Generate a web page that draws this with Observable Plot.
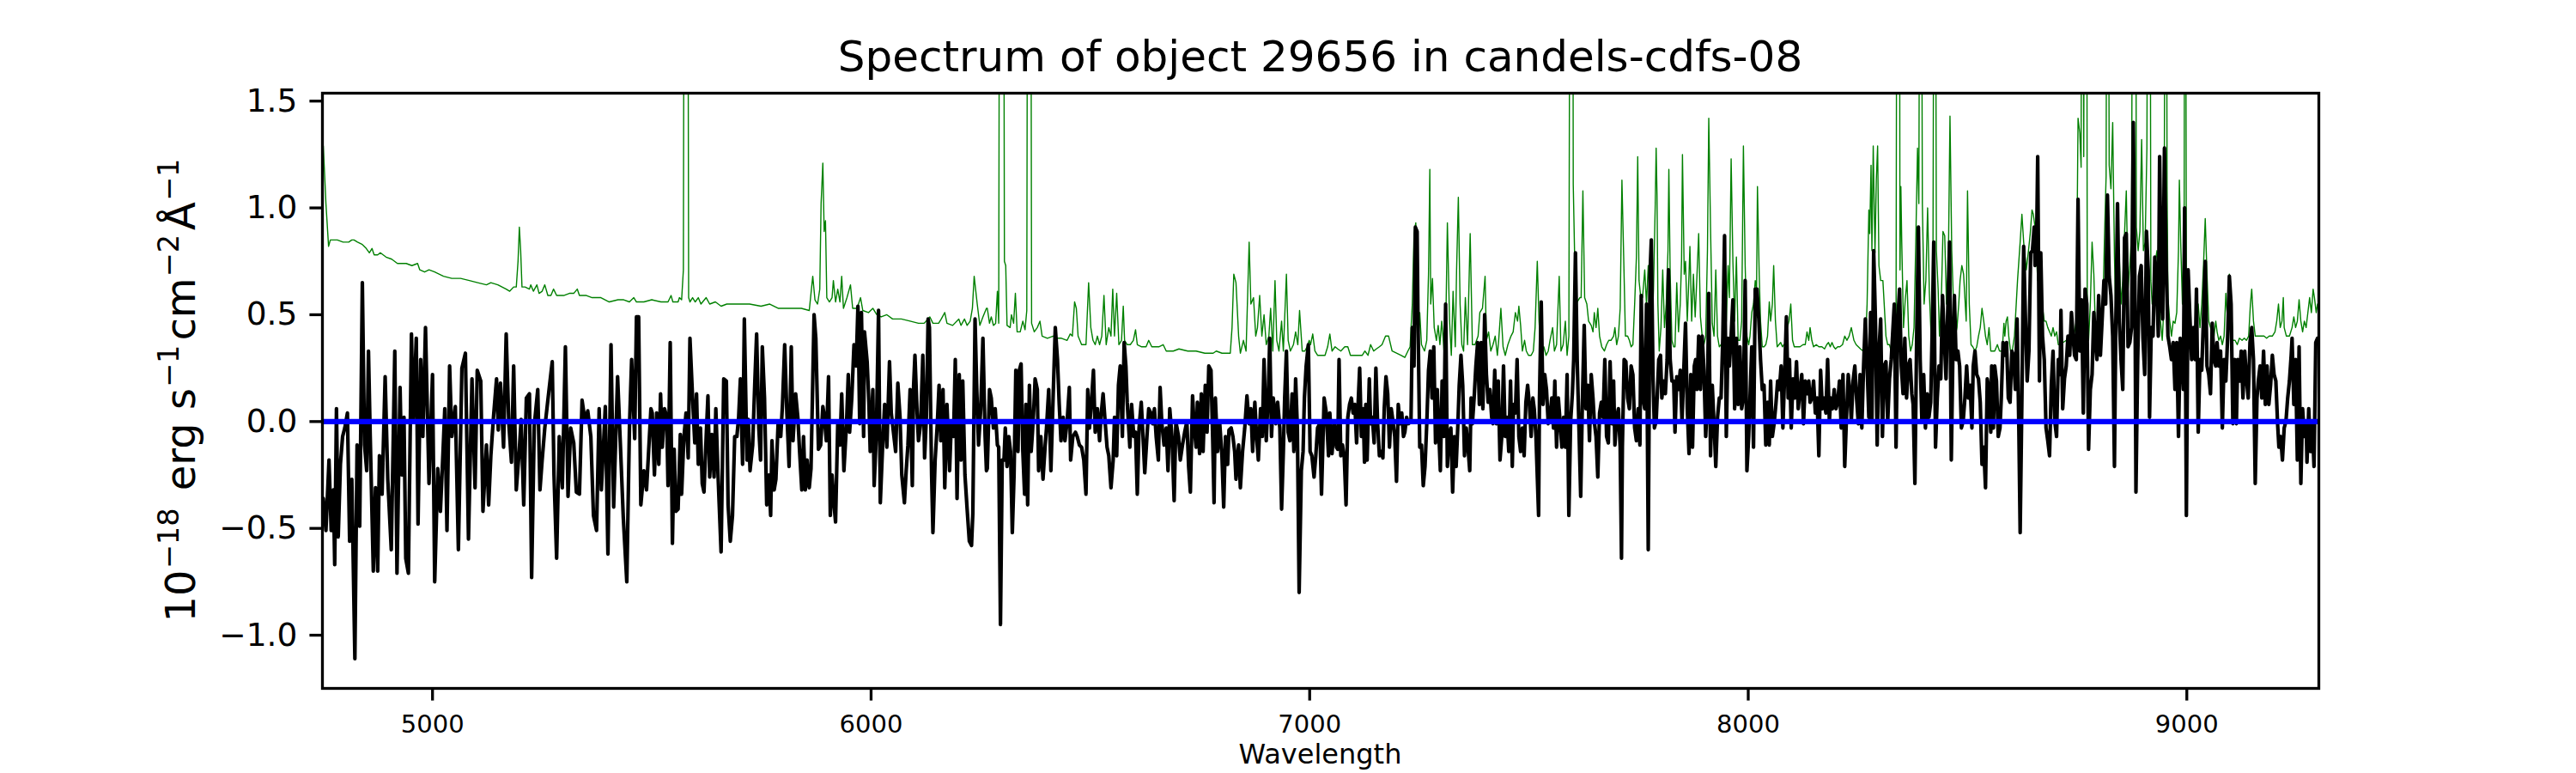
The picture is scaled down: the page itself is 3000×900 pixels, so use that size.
<!DOCTYPE html>
<html>
<head>
<meta charset="utf-8">
<script src="https://cdn.jsdelivr.net/npm/d3@7"></script>
<script src="https://cdn.jsdelivr.net/npm/@observablehq/plot@0.6"></script>
<style>
  html, body { margin: 0; padding: 0; background: #ffffff; }
</style>
</head>
<body>
<div id="chart"></div>
<script>
// ---------- text ----------
const titleText = "Spectrum of object 29656 in candels-cdfs-08";
const xLabelText = "Wavelength";
const yLabelParts = [
  { t: "10" }, { t: "\u221218", sup: true }, { t: " erg s" }, { t: "\u22121", sup: true },
  { t: "cm" }, { t: "\u22122", sup: true }, { t: "\u00C5" }, { t: "\u22121", sup: true }
];

// ---------- ticks & domains ----------
const xTicks = [5000, 6000, 7000, 8000, 9000];
const yTicks = [-1.0, -0.5, 0.0, 0.5, 1.0, 1.5];
const xDomain = [4749, 9301];
const yDomain = [-1.249, 1.537];
const zeroLevel = [0];

// ---------- object flux (black), [wavelength, flux] ----------
const fluxPairs = [
[4751,-0.36],[4757,-0.51],[4764,-0.18],[4769,-0.51],[4774,-0.32],[4777,-0.67],[4781,0.06],[4785,-0.54],[4790,-0.20],[4795,-0.07],[4800,-0.03],[4806,0.04],[4811,-0.56],[4816,-0.27],[4823,-1.11],[4828,-0.11],[4834,-0.49],[4840,0.65],[4845,-0.11],[4850,-0.23],[4854,0.33],[4858,-0.07],[4865,-0.70],[4870,-0.31],[4875,-0.70],[4879,-0.16],[4885,-0.34],[4892,0.21],[4898,-0.27],[4906,-0.60],[4914,0.33],[4919,-0.71],[4926,0.16],[4930,-0.25],[4935,0.02],[4939,-0.64],[4945,-0.71],[4952,0.41],[4956,0.00],[4963,0.39],[4967,-0.48],[4973,0.29],[4978,-0.07],[4984,0.44],[4992,-0.29],[5000,0.22],[5005,-0.75],[5012,-0.22],[5018,-0.42],[5024,-0.14],[5028,0.06],[5033,-0.51],[5039,0.26],[5044,-0.07],[5052,0.07],[5059,-0.60],[5067,0.25],[5075,0.32],[5082,-0.55],[5090,0.20],[5097,-0.31],[5102,0.24],[5110,0.19],[5115,-0.42],[5123,-0.11],[5128,-0.39],[5133,-0.16],[5139,0.02],[5146,0.20],[5150,-0.04],[5155,0.18],[5162,-0.12],[5168,0.41],[5174,-0.01],[5180,-0.19],[5185,0.26],[5191,-0.32],[5198,-0.13],[5202,0.01],[5208,-0.39],[5214,0.11],[5221,0.13],[5226,-0.73],[5232,-0.02],[5240,0.15],[5245,-0.32],[5250,-0.18],[5256,-0.03],[5263,0.10],[5268,0.19],[5273,0.28],[5277,-0.25],[5283,-0.64],[5289,-0.07],[5296,-0.31],[5303,0.35],[5309,-0.35],[5315,-0.03],[5322,-0.10],[5328,-0.33],[5335,-0.34],[5341,0.10],[5348,0.00],[5354,0.05],[5361,-0.07],[5367,-0.44],[5374,-0.51],[5380,0.06],[5385,-0.32],[5394,0.07],[5400,-0.62],[5407,0.36],[5413,-0.40],[5422,0.21],[5429,-0.14],[5435,-0.45],[5443,-0.75],[5449,-0.03],[5454,0.29],[5461,-0.08],[5465,0.49],[5470,0.49],[5475,-0.39],[5482,-0.23],[5488,-0.32],[5498,0.06],
[5501,0.04],[5506,-0.25],[5511,0.04],[5516,-0.20],[5520,0.13],[5524,-0.12],[5529,0.06],[5534,0.02],[5537,-0.30],[5542,0.37],[5547,-0.57],[5551,-0.13],[5555,-0.42],[5560,-0.41],[5565,-0.06],[5568,-0.34],[5573,-0.08],[5578,0.04],[5583,-0.17],[5587,0.39],[5593,0.11],[5598,-0.10],[5602,0.13],[5606,-0.20],[5611,-0.03],[5615,-0.29],[5619,-0.33],[5624,-0.07],[5628,0.12],[5632,-0.26],[5637,-0.06],[5642,-0.26],[5646,0.06],[5651,-0.25],[5658,-0.61],[5664,0.20],[5670,0.19],[5674,-0.39],[5679,-0.56],[5684,-0.44],[5689,-0.07],[5694,-0.07],[5698,0.02],[5702,0.20],[5707,-0.20],[5711,0.48],[5717,-0.18],[5720,0.01],[5724,-0.23],[5730,-0.11],[5735,0.19],[5739,0.41],[5744,-0.03],[5748,-0.18],[5752,0.35],[5757,0.11],[5762,-0.39],[5767,-0.25],[5771,-0.44],[5774,-0.09],[5779,-0.32],[5783,-0.27],[5788,-0.01],[5794,-0.07],[5798,0.08],[5803,0.36],[5808,0.04],[5813,-0.21],[5818,0.35],[5822,-0.09],[5828,0.13],[5833,0.02],[5837,-0.14],[5842,-0.32],[5846,-0.07],[5850,-0.32],[5854,-0.18],[5859,-0.31],[5863,-0.22],[5870,0.50],[5874,0.39],[5880,-0.13],[5885,-0.11],[5890,0.07],[5893,0.03],[5898,-0.09],[5903,0.21],[5907,-0.44],[5911,-0.25],[5916,-0.40],[5919,-0.47],[5924,-0.01],[5929,-0.11],[5933,0.13],[5938,-0.23],[5944,-0.01],[5948,0.22],[5951,-0.05],[5956,0.11],[5961,0.36],[5966,0.26],[5970,0.54],[5974,-0.01],[5978,0.51],[5983,-0.07],[5985,0.42],[5991,0.28],[5995,0.09],[5998,-0.14],[6004,0.15],[6007,-0.30],[6012,-0.06],[6017,0.52],[6021,-0.38],[6027,-0.08],[6031,0.08],[6036,-0.12],[6042,0.28],[6046,0.04],[6051,-0.05],[6056,-0.14],[6061,0.18],[6066,0.02],[6070,-0.25],[6076,-0.38],[6080,-0.23],[6084,-0.11],[6089,0.15],[6094,-0.30],[6097,0.17],[6100,0.31],[6105,0.04],[6108,-0.09],[6113,-0.01],[6118,0.31],[6122,-0.17],[6126,0.02],[6130,0.48],[6133,0.44],[6138,-0.25],[6141,-0.52],[6146,-0.18],[6151,-0.01],[6155,0.17],[6159,-0.09],[6164,0.15],[6168,-0.31],[6173,0.08],[6179,-0.23],[6183,0.00],[6188,-0.07],[6192,0.29],[6196,-0.36],[6201,0.22],[6205,-0.18],[6209,0.19],[6214,-0.25],[6219,-0.41],[6224,-0.56],[6229,-0.58],[6232,-0.43],[6237,0.48],[6241,0.15],[6245,-0.11],[6250,0.06],[6255,0.39],[6260,-0.07],[6263,-0.23],
[6265,-0.22],[6270,0.15],[6274,0.11],[6279,-0.03],[6283,0.06],[6288,-0.11],[6291,-0.12],[6295,-0.95],[6299,-0.18],[6303,-0.18],[6306,-0.03],[6310,-0.21],[6314,-0.07],[6318,-0.14],[6322,-0.52],[6326,-0.25],[6330,0.24],[6335,-0.14],[6338,0.24],[6342,0.27],[6346,-0.14],[6350,-0.34],[6353,0.08],[6357,-0.39],[6361,0.17],[6365,-0.14],[6368,-0.05],[6371,0.06],[6374,0.20],[6379,0.15],[6382,-0.23],[6387,-0.07],[6392,-0.27],[6397,-0.11],[6400,-0.03],[6405,0.15],[6410,-0.23],[6415,0.11],[6420,0.44],[6425,0.29],[6429,0.08],[6433,-0.09],[6438,0.02],[6442,-0.09],[6447,0.00],[6452,0.16],[6455,-0.18],[6460,-0.07],[6466,-0.05],[6470,-0.07],[6475,-0.11],[6480,-0.12],[6485,-0.18],[6490,-0.34],[6494,0.15],[6498,-0.03],[6503,0.11],[6507,0.24],[6511,-0.05],[6516,0.06],[6521,-0.09],[6524,0.02],[6529,0.13],[6534,-0.01],[6538,-0.12],[6542,-0.16],[6547,-0.31],[6552,-0.18],[6555,0.02],[6560,-0.16],[6564,0.17],[6568,0.26],[6573,-0.07],[6577,0.37],[6581,0.26],[6584,0.09],[6590,-0.12],[6594,0.08],[6599,-0.07],[6603,-0.05],[6607,-0.34],[6611,-0.03],[6616,0.09],[6620,-0.07],[6624,-0.24],[6629,-0.07],[6633,0.06],[6638,0.04],[6642,-0.01],[6646,0.06],[6650,-0.07],[6655,-0.18],[6659,0.16],[6663,-0.01],[6668,-0.11],[6673,-0.03],[6677,-0.23],[6681,0.06],[6686,-0.07],[6691,-0.37],[6695,0.00],[6701,-0.07],[6705,-0.18],[6710,-0.11],[6715,-0.05],[6720,0.00],[6724,-0.21],[6728,-0.33],[6733,0.12],[6737,-0.03],[6741,-0.12],[6744,0.09],[6749,-0.15],[6753,0.13],[6757,-0.14],[6762,0.17],[6766,-0.05],[6770,0.26],[6775,0.24],[6779,-0.09],[6782,-0.38],[6785,0.11],[6790,-0.14],[6795,-0.01],[6800,-0.16],[6804,-0.40],[6808,-0.07],[6813,-0.20],[6816,-0.04],[6821,-0.03],[6825,-0.07],[6829,-0.14],[6832,-0.27],[6838,-0.11],[6842,-0.31],[6847,-0.14],[6852,-0.03],[6857,0.12],[6862,-0.01],[6866,0.06],[6870,-0.14],[6875,0.09],[6879,-0.07],[6883,-0.18],[6888,0.06],[6892,-0.07],[6896,0.29],[6901,-0.09],[6906,0.15],[6909,0.39],[6913,-0.07],[6917,0.11],[6923,-0.01],[6927,0.09],[6932,-0.03],[6936,-0.41],[6940,-0.14],[6943,0.11],[6947,0.33],[6951,-0.05],[6955,-0.09],[6960,0.13],[6964,-0.14],[6968,0.20],[6972,-0.03],[6976,-0.80],[6981,-0.23],[6985,-0.14],[6988,0.11],[6992,0.26],[6997,0.36],[7001,-0.14],[7005,-0.16],[7010,-0.26],[7014,-0.16],[7018,-0.03],[7023,-0.01],[7027,-0.34],
[7033,0.11],[7038,0.04],[7043,-0.16],[7046,0.04],[7051,-0.15],[7056,-0.01],[7061,-0.12],[7064,-0.13],[7067,0.29],[7071,-0.16],[7075,-0.11],[7079,-0.17],[7083,-0.39],[7087,0.02],[7091,0.08],[7095,0.11],[7099,0.04],[7103,0.08],[7107,-0.10],[7110,0.06],[7114,0.25],[7118,-0.07],[7122,0.06],[7125,-0.19],[7128,0.08],[7131,-0.18],[7136,0.20],[7139,-0.01],[7143,0.02],[7147,-0.10],[7151,0.25],[7155,-0.01],[7159,-0.16],[7163,-0.14],[7167,-0.17],[7170,0.06],[7174,0.21],[7178,0.13],[7182,-0.12],[7186,0.06],[7190,0.00],[7194,-0.07],[7198,-0.28],[7202,0.08],[7206,-0.01],[7210,0.04],[7214,-0.07],[7217,-0.05],[7221,0.02],[7225,-0.01],[7231,0.00],[7234,0.44],[7238,0.26],[7241,0.91],[7245,0.89],[7247,0.48],[7251,-0.12],[7255,-0.11],[7259,-0.30],[7263,-0.21],[7267,-0.01],[7271,0.24],[7275,0.33],[7279,0.11],[7283,0.35],[7287,-0.10],[7291,0.15],[7294,-0.03],[7298,-0.23],[7302,0.19],[7306,-0.07],[7310,0.55],[7314,-0.21],[7318,-0.07],[7322,-0.03],[7326,-0.33],[7330,-0.07],[7334,-0.21],[7338,-0.01],[7341,0.17],[7345,0.31],[7349,0.17],[7353,-0.16],[7357,-0.03],[7361,-0.12],[7365,-0.23],[7368,0.11],[7371,-0.01],[7375,0.11],[7379,0.26],[7383,0.37],[7387,0.08],[7391,0.37],[7395,0.06],[7399,0.50],[7403,0.22],[7407,0.09],[7411,0.15],[7415,0.02],[7418,-0.01],[7422,0.24],[7426,-0.01],[7430,0.19],[7434,-0.18],[7438,-0.07],[7442,0.26],[7446,-0.07],[7450,0.02],[7454,-0.14],[7458,0.19],[7462,-0.21],[7465,0.08],[7469,0.04],[7473,0.29],[7477,-0.07],[7481,-0.14],[7485,-0.03],[7489,-0.16],[7493,0.09],[7497,0.17],[7501,0.08],[7505,-0.07],[7509,0.11],[7512,0.06],[7516,-0.07],[7522,-0.44],[7524,0.11],[7528,0.56],[7532,0.08],[7536,0.22],[7540,0.15],[7544,-0.01],[7548,0.02],[7552,0.11],[7556,-0.03],[7559,0.19],[7563,-0.12],[7567,0.11],[7571,0.00],[7575,-0.12],[7579,0.02],[7583,-0.12],[7587,0.22],[7591,-0.44],[7595,0.00],[7599,0.13],[7602,0.29],[7606,0.79],[7610,0.29],[7614,-0.03],[7618,-0.35],[7622,0.11],[7626,0.45],[7630,0.06],[7634,0.17],[7638,-0.09],[7642,0.22],[7646,0.11],[7649,0.00],[7653,-0.07],[7657,-0.26],[7661,0.04],[7665,0.09],[7669,0.02],[7673,0.29],[7677,-0.07],[7681,-0.10],[7685,0.28],[7689,-0.01],[7693,0.19],[7696,-0.11],[7700,0.02],[7704,0.06],[7708,-0.12],[7711,-0.64],[7713,-0.12],[7717,0.29],[7721,0.28],[7725,0.11],[7729,0.06],[7733,0.26],[7737,0.22],[7741,-0.03],[7745,-0.09],[7749,0.06],[7753,-0.11],[7756,0.59],[7760,0.11],[7764,0.06],[7768,0.55],[7772,-0.60],[7776,0.69],[7779,0.85],[7783,0.19],[7786,-0.03],[7790,0.00],
[7796,0.29],[7800,0.31],[7803,0.11],[7807,0.19],[7811,0.13],[7815,0.29],[7818,0.71],[7822,0.29],[7826,0.19],[7830,0.19],[7833,-0.05],[7837,0.21],[7841,0.15],[7845,0.24],[7849,0.00],[7853,0.24],[7857,0.46],[7861,0.06],[7865,-0.15],[7869,0.22],[7873,-0.12],[7877,0.26],[7880,0.29],[7883,0.15],[7887,0.40],[7891,0.15],[7895,0.40],[7899,0.24],[7903,-0.07],[7907,0.11],[7910,0.60],[7914,-0.16],[7918,0.17],[7922,-0.01],[7926,-0.21],[7930,0.02],[7934,0.11],[7938,0.11],[7942,0.39],[7946,0.87],[7950,-0.07],[7954,0.39],[7957,0.26],[7961,0.40],[7965,0.57],[7969,0.06],[7973,0.39],[7977,0.08],[7981,0.35],[7985,0.06],[7989,0.11],[7993,0.66],[7997,-0.23],[8001,-0.07],[8004,0.11],[8008,0.35],[8012,-0.12],[8016,0.62],[8020,0.62],[8024,0.48],[8028,0.29],[8032,0.15],[8036,0.17],[8040,-0.11],[8044,0.09],[8048,-0.11],[8051,0.19],[8055,-0.07],[8059,-0.01],[8063,0.08],[8067,0.19],[8071,0.15],[8075,0.26],[8079,-0.03],[8083,0.22],[8087,0.49],[8091,0.11],[8094,0.29],[8098,-0.03],[8102,0.20],[8106,0.11],[8110,0.28],[8114,0.06],[8118,0.15],[8122,0.22],[8126,-0.01],[8130,0.19],[8134,0.13],[8138,0.19],[8141,0.09],[8145,0.11],[8149,0.19],[8153,0.04],[8157,0.11],[8161,-0.16],[8165,0.24],[8169,0.06],[8173,0.11],[8177,0.04],[8181,0.29],[8185,0.00],[8188,0.11],[8192,0.06],[8196,0.15],[8200,0.06],[8204,0.09],[8208,0.19],[8212,-0.03],[8216,0.22],[8220,-0.21],[8224,0.02],[8228,0.22],[8232,0.13],[8235,0.00],[8239,0.19],[8243,0.26],[8247,0.11],[8251,-0.01],[8255,0.22],[8259,-0.03],[8263,0.26],[8267,0.48],[8271,0.26],[8275,0.02],[8279,0.51],[8282,0.00],[8286,0.80],[8290,0.48],[8294,-0.11],[8298,0.33],[8302,0.48],[8306,-0.07],[8310,0.26],[8314,0.28],[8318,0.00],[8322,0.20],[8326,0.29],[8329,0.40],[8333,0.55],[8337,-0.12],[8341,0.48],[8345,0.62],[8349,0.26],[8353,0.13],[8357,0.39],[8361,0.11],[8365,0.26],[8369,0.29],[8373,0.13],[8376,0.08],[8380,-0.29],[8384,0.39],[8388,0.91],[8392,0.29],[8396,0.00],[8400,0.22],[8404,-0.03],[8408,0.13],[8412,0.02],[8416,0.09],[8420,0.48],[8423,0.84],[8427,-0.12],[8431,0.11],[8435,0.26],[8439,0.20],[8443,0.59],[8447,0.39],[8451,0.20],[8455,0.53],[8459,0.84],[8463,-0.18],[8467,0.37],[8470,0.59],[8474,0.29],[8478,0.33],[8482,0.26],[8486,-0.03],[8490,0.00],[8494,0.11],[8498,0.26],[8502,0.11],[8506,0.17],[8510,-0.03],[8513,0.26],[8517,0.33],[8521,0.22],[8525,0.20],[8529,0.09],[8533,-0.20],[8537,-0.12],[8541,-0.31],[8545,0.20],[8549,0.15],[8553,-0.05],
[8555,0.26],[8559,-0.03],[8562,0.26],[8566,0.19],[8570,-0.07],[8574,-0.03],[8577,0.11],[8581,0.37],[8585,0.31],[8589,0.37],[8593,0.11],[8597,0.09],[8601,0.33],[8605,0.31],[8609,0.15],[8613,0.48],[8617,-0.03],[8620,-0.52],[8624,0.11],[8628,0.82],[8632,0.49],[8636,0.19],[8640,0.33],[8644,0.79],[8648,0.80],[8652,0.91],[8654,0.73],[8657,0.75],[8660,1.24],[8664,0.19],[8667,0.79],[8671,0.40],[8675,0.29],[8679,-0.03],[8683,-0.09],[8687,-0.16],[8691,0.17],[8695,0.33],[8699,0.00],[8703,-0.07],[8707,0.29],[8711,0.22],[8713,0.52],[8717,0.06],[8721,0.20],[8725,0.26],[8729,0.40],[8733,0.31],[8737,0.51],[8741,0.39],[8744,0.31],[8748,0.29],[8752,1.04],[8756,0.33],[8760,0.57],[8764,0.04],[8768,0.62],[8772,0.55],[8776,-0.13],[8780,0.15],[8784,0.22],[8788,0.51],[8791,0.40],[8795,0.29],[8799,0.59],[8803,0.31],[8807,0.48],[8811,0.66],[8815,0.55],[8819,1.06],[8823,0.68],[8827,0.59],[8831,0.40],[8835,-0.21],[8838,0.44],[8842,1.02],[8846,0.48],[8850,0.29],[8854,0.15],[8858,0.86],[8862,0.88],[8866,0.35],[8870,0.37],[8874,0.44],[8878,1.40],[8882,0.55],[8884,-0.33],[8888,0.29],[8892,0.68],[8896,0.73],[8900,0.39],[8904,0.22],[8908,0.89],[8912,0.71],[8915,0.02],[8919,0.44],[8923,0.40],[8927,0.77],[8931,0.66],[8935,0.40],[8938,1.24],[8942,0.57],[8945,0.48],[8949,1.28],[8953,0.73],[8957,0.40],[8961,0.35],[8965,0.29],[8969,0.37],[8973,0.15],[8977,0.37],[8981,-0.07],[8985,0.39],[8989,0.29],[8992,0.15],[8995,1.00],[8999,-0.44],[9003,0.71],[9007,0.49],[9011,0.29],[9015,0.44],[9019,0.29],[9022,0.62],[9026,-0.05],[9030,0.29],[9034,0.24],[9038,0.48],[9042,0.75],[9046,0.26],[9050,0.22],[9054,0.13],[9058,0.46],[9062,0.29],[9066,0.26],[9069,0.37],[9073,0.26],[9077,0.33],[9081,-0.03],[9085,0.29],[9089,0.19],[9093,0.39],[9097,0.68],[9101,0.55],[9105,-0.01],[9109,0.29],[9113,-0.01],[9116,0.29],[9120,0.19],[9124,0.33],[9128,0.11],[9132,0.33],[9136,0.20],[9140,0.11],[9144,0.37],[9148,0.44],[9152,0.29],[9156,-0.29],[9160,0.11],[9163,0.19],[9167,0.26],[9171,0.11],[9175,0.33],[9179,0.08],[9183,0.26],[9187,0.08],[9191,0.17],[9195,0.31],[9199,0.22],[9203,0.19],[9207,-0.01],[9210,-0.12],[9214,-0.07],[9218,-0.18],[9222,-0.03],[9226,0.00],[9230,0.11],[9234,0.19],[9238,0.31],[9240,0.39],[9244,0.08],[9248,0.29],[9252,-0.18],[9256,0.35],[9260,-0.29],[9264,0.06],[9268,-0.07],[9272,0.00],[9274,-0.19],[9278,0.06],[9282,-0.14],[9286,0.00],[9290,-0.21],[9294,0.37],[9298,0.39]
];

// ---------- noise / sky spectrum (green), [wavelength, flux]; 4.0 = beyond the top ----------
const noisePairs = [
[4751,1.29],[4757,1.02],[4763,0.82],[4767,0.85],[4774,0.85],[4783,0.85],[4796,0.84],[4803,0.84],[4809,0.84],[4816,0.85],[4821,0.85],[4829,0.84],[4839,0.83],[4849,0.81],[4856,0.79],[4862,0.81],[4867,0.78],[4875,0.78],[4881,0.79],[4894,0.77],[4907,0.76],[4920,0.74],[4927,0.74],[4940,0.74],[4953,0.73],[4966,0.74],[4971,0.71],[4982,0.70],[4992,0.71],[5005,0.70],[5025,0.68],[5044,0.67],[5064,0.67],[5084,0.66],[5103,0.65],[5123,0.64],[5133,0.65],[5149,0.64],[5168,0.62],[5176,0.61],[5185,0.63],[5191,0.63],[5195,0.75],[5198,0.91],[5201,0.80],[5204,0.63],[5211,0.63],[5221,0.62],[5224,0.64],[5230,0.61],[5238,0.64],[5243,0.60],[5250,0.61],[5256,0.64],[5263,0.59],[5270,0.59],[5276,0.62],[5283,0.59],[5299,0.59],[5312,0.60],[5322,0.60],[5330,0.62],[5335,0.59],[5351,0.59],[5364,0.58],[5384,0.58],[5403,0.56],[5423,0.57],[5436,0.57],[5449,0.56],[5459,0.58],[5465,0.56],[5482,0.56],[5500,0.57],
[5521,0.56],[5537,0.56],[5544,0.59],[5548,0.56],[5560,0.56],[5563,0.58],[5568,0.57],[5572,0.71],[5575,4.0],[5581,4.0],[5584,0.58],[5587,0.56],[5593,0.58],[5599,0.56],[5606,0.58],[5612,0.55],[5624,0.58],[5632,0.55],[5645,0.56],[5658,0.54],[5671,0.55],[5697,0.55],[5723,0.55],[5749,0.54],[5769,0.55],[5788,0.53],[5814,0.53],[5841,0.53],[5859,0.52],[5863,0.60],[5867,0.68],[5872,0.57],[5878,0.55],[5883,0.62],[5886,1.02],[5890,1.21],[5893,0.89],[5896,0.94],[5899,0.58],[5905,0.56],[5911,0.58],[5914,0.66],[5919,0.56],[5924,0.62],[5929,0.56],[5933,0.68],[5937,0.53],[5945,0.58],[5953,0.64],[5958,0.53],[5968,0.53],[5976,0.58],[5981,0.52],[5994,0.51],[6004,0.53],[6013,0.50],[6023,0.49],[6036,0.50],[6049,0.48],[6069,0.48],[6089,0.47],[6108,0.46],[6121,0.46],[6134,0.49],[6141,0.46],[6154,0.46],[6160,0.48],[6168,0.51],[6173,0.46],[6186,0.45],[6200,0.48],[6205,0.45],[6213,0.48],[6219,0.45],[6226,0.47],[6231,0.53],[6235,0.68],[6242,0.55],[6248,0.45],[6255,0.49],[6263,0.53],
[6265,0.53],[6270,0.46],[6274,0.49],[6279,0.45],[6284,0.46],[6288,0.61],[6291,0.46],[6294,4.0],[6301,4.0],[6304,0.75],[6307,0.73],[6310,0.45],[6317,0.44],[6320,0.50],[6325,0.46],[6329,0.60],[6333,0.42],[6340,0.42],[6346,0.47],[6351,0.43],[6355,0.52],[6358,4.0],[6363,4.0],[6366,0.46],[6372,0.42],[6379,0.44],[6385,0.47],[6390,0.40],[6402,0.39],[6415,0.40],[6425,0.39],[6434,0.39],[6447,0.38],[6454,0.41],[6459,0.40],[6464,0.56],[6468,0.53],[6472,0.40],[6480,0.36],[6490,0.36],[6496,0.65],[6501,0.44],[6506,0.38],[6511,0.36],[6516,0.40],[6521,0.36],[6526,0.40],[6531,0.59],[6536,0.36],[6542,0.44],[6547,0.40],[6551,0.62],[6555,0.40],[6560,0.60],[6565,0.36],[6571,0.38],[6575,0.54],[6578,0.38],[6584,0.36],[6591,0.36],[6598,0.38],[6603,0.43],[6607,0.36],[6617,0.35],[6627,0.35],[6633,0.38],[6640,0.35],[6656,0.35],[6666,0.36],[6673,0.33],[6689,0.33],[6702,0.34],[6722,0.33],[6741,0.33],[6761,0.32],[6780,0.32],[6787,0.33],[6800,0.32],[6819,0.32],[6823,0.44],[6827,0.69],[6832,0.65],[6838,0.40],[6842,0.32],[6849,0.38],[6855,0.33],[6862,0.84],[6866,0.55],[6872,0.58],[6877,0.40],[6881,0.44],[6886,0.59],[6891,0.40],[6896,0.50],[6901,0.36],[6907,0.40],[6911,0.53],[6916,0.33],[6921,0.66],[6925,0.38],[6930,0.33],[6936,0.47],[6940,0.33],[6947,0.69],[6951,0.38],[6956,0.33],[6963,0.36],[6968,0.42],[6973,0.36],[6977,0.52],[6983,0.33],[6989,0.33],[6994,0.35],[6999,0.38],[7002,0.36],[7007,0.41],[7012,0.33],[7018,0.31],[7027,0.31],
[7035,0.31],[7041,0.35],[7046,0.41],[7051,0.33],[7058,0.35],[7064,0.34],[7071,0.33],[7080,0.35],[7087,0.35],[7093,0.31],[7107,0.31],[7120,0.31],[7126,0.33],[7133,0.31],[7139,0.36],[7146,0.33],[7152,0.34],[7159,0.35],[7165,0.36],[7173,0.40],[7180,0.40],[7188,0.33],[7198,0.32],[7208,0.31],[7217,0.30],[7224,0.33],[7229,0.35],[7234,0.55],[7238,0.88],[7242,0.93],[7246,0.55],[7249,0.42],[7251,0.51],[7255,0.36],[7262,0.33],[7267,0.38],[7271,0.69],[7274,1.18],[7276,0.55],[7280,0.67],[7284,0.44],[7289,0.38],[7293,0.45],[7297,0.36],[7301,0.47],[7304,0.40],[7307,0.31],[7310,0.40],[7314,0.93],[7319,0.47],[7323,0.31],[7327,0.61],[7332,0.35],[7335,0.71],[7339,1.05],[7343,0.55],[7347,0.36],[7351,0.33],[7355,0.58],[7360,0.36],[7366,0.88],[7371,0.36],[7377,0.36],[7384,0.40],[7388,0.51],[7394,0.53],[7400,0.68],[7403,0.38],[7408,0.42],[7413,0.33],[7418,0.36],[7423,0.40],[7428,0.31],[7431,0.38],[7436,0.53],[7441,0.35],[7446,0.31],[7452,0.36],[7459,0.40],[7464,0.42],[7469,0.51],[7474,0.47],[7477,0.54],[7481,0.45],[7485,0.33],[7490,0.38],[7494,0.33],[7499,0.31],[7505,0.31],[7510,0.33],[7514,0.44],[7519,0.75],[7523,0.47],[7527,0.33],[7534,0.35],[7539,0.31],[7544,0.33],[7548,0.38],[7554,0.44],[7558,0.33],[7563,0.36],[7569,0.68],[7573,0.33],[7578,0.36],[7583,0.47],[7587,0.31],[7591,0.40],[7595,4.0],[7599,4.0],[7601,1.11],[7606,0.58],[7610,0.56],[7616,0.58],[7619,0.58],[7623,1.08],[7627,0.58],[7632,0.55],[7636,0.47],[7642,0.45],[7646,0.42],[7649,0.51],[7653,0.44],[7657,0.53],[7661,0.40],[7666,0.35],[7672,0.33],[7677,0.36],[7682,0.38],[7687,0.38],[7693,0.40],[7696,0.44],[7700,0.36],[7704,0.40],[7708,0.53],[7712,1.13],[7716,0.77],[7720,0.40],[7725,0.40],[7729,0.38],[7733,0.35],[7737,0.36],[7741,0.55],[7745,0.77],[7748,1.24],[7751,0.66],[7755,0.58],[7759,0.58],[7764,0.71],[7768,0.55],[7772,0.73],[7776,0.58],[7780,0.38],[7784,0.62],[7788,1.02],[7790,1.28],
[7792,1.06],[7794,0.55],[7797,0.33],[7801,0.44],[7805,0.71],[7809,0.44],[7813,0.55],[7817,0.80],[7819,1.18],[7822,0.69],[7826,0.38],[7830,0.35],[7833,0.35],[7837,0.65],[7841,0.42],[7845,0.55],[7848,0.76],[7850,1.25],[7854,0.69],[7857,0.75],[7861,0.47],[7865,0.69],[7867,0.82],[7871,0.47],[7875,0.69],[7879,0.49],[7883,0.68],[7887,0.88],[7891,0.49],[7895,0.40],[7899,0.36],[7903,0.40],[7907,0.80],[7910,1.42],[7914,0.91],[7918,0.46],[7922,0.40],[7926,0.71],[7930,0.40],[7934,0.35],[7938,0.36],[7942,0.36],[7946,0.40],[7950,0.47],[7954,0.73],[7957,0.58],[7961,1.23],[7965,0.75],[7969,0.47],[7973,0.77],[7977,0.38],[7981,0.38],[7985,0.47],[7989,1.29],[7993,0.73],[7997,0.40],[8001,0.36],[8004,0.40],[8008,0.51],[8012,0.55],[8016,0.66],[8019,0.62],[8021,1.10],[8025,0.69],[8028,0.47],[8032,0.35],[8036,0.35],[8040,0.36],[8044,0.40],[8048,0.56],[8051,0.47],[8055,0.55],[8058,0.73],[8062,0.47],[8066,0.35],[8070,0.36],[8074,0.37],[8078,0.35],[8081,0.36],[8085,0.36],[8089,0.44],[8093,0.47],[8097,0.55],[8101,0.38],[8105,0.35],[8111,0.35],[8118,0.35],[8125,0.36],[8130,0.36],[8134,0.42],[8138,0.38],[8141,0.44],[8145,0.38],[8149,0.35],[8155,0.36],[8161,0.35],[8168,0.35],[8174,0.34],[8179,0.36],[8183,0.37],[8187,0.35],[8191,0.37],[8195,0.35],[8199,0.34],[8204,0.35],[8209,0.35],[8215,0.36],[8220,0.40],[8225,0.38],[8230,0.40],[8235,0.44],[8241,0.38],[8246,0.36],[8251,0.35],[8256,0.34],[8262,0.33],[8267,0.35],[8271,0.55],[8275,0.99],[8277,0.88],[8280,1.20],[8282,0.80],[8285,1.29],[8289,0.79],[8292,1.13],[8295,1.29],[8298,0.73],[8302,0.66],[8307,0.66],[8310,0.55],[8314,0.40],[8318,0.36],[8322,0.36],[8326,0.33],[8329,0.33],[8333,0.36],[8337,0.44],[8340,4.0],[8344,4.0],[8346,0.71],[8348,1.10],[8350,0.84],[8354,0.44],[8358,0.57],[8362,0.66],[8366,0.40],[8370,0.33],[8374,0.36],[8378,0.44],[8382,0.84],[8386,1.28],[8389,1.02],[8393,4.0],[8397,1.02],[8401,0.55],[8405,0.66],[8409,1.00],[8413,0.60],[8417,0.40],[8421,0.58],[8425,4.0],[8429,0.80],[8433,0.62],[8436,0.40],[8440,0.55],[8444,0.89],[8448,0.87],[8452,0.55],[8456,0.69],[8460,1.43],[8464,0.80],[8468,0.55],[8472,0.40],[8476,0.44],[8480,0.55],[8483,0.66],[8487,0.73],[8491,0.69],[8497,0.47],[8500,1.08],[8504,0.55],[8508,0.36],[8512,0.35],[8517,0.33],[8521,0.35],[8525,0.40],[8529,0.44],[8533,0.53],[8537,0.47],[8541,0.40],[8545,0.36],[8549,0.44],[8553,0.33],
[8555,0.33],[8562,0.33],[8568,0.36],[8573,0.33],[8579,0.33],[8583,0.46],[8585,0.40],[8588,0.47],[8591,0.49],[8594,0.40],[8598,0.33],[8602,0.33],[8607,0.40],[8614,0.66],[8620,0.84],[8624,0.97],[8628,0.84],[8634,0.71],[8639,0.80],[8643,0.88],[8647,0.99],[8650,0.97],[8654,0.91],[8660,0.66],[8665,0.69],[8670,0.55],[8675,0.47],[8679,0.47],[8683,0.44],[8687,0.42],[8691,0.40],[8695,0.44],[8699,0.40],[8703,0.42],[8707,0.36],[8712,0.36],[8718,0.37],[8725,0.38],[8730,0.40],[8735,0.40],[8741,0.40],[8744,0.42],[8748,0.47],[8752,1.42],[8756,1.35],[8759,1.19],[8761,4.0],[8765,1.24],[8768,4.0],[8771,4.0],[8773,0.55],[8776,0.38],[8780,0.55],[8784,0.84],[8788,0.69],[8791,0.47],[8797,0.44],[8801,0.46],[8805,0.51],[8808,0.47],[8812,0.84],[8816,1.15],[8819,4.0],[8823,1.20],[8827,1.09],[8831,1.40],[8835,0.77],[8838,0.51],[8842,0.84],[8846,0.77],[8850,0.55],[8854,0.66],[8858,0.88],[8862,1.08],[8866,0.62],[8870,0.73],[8874,0.88],[8878,4.0],[8882,4.0],[8885,0.91],[8889,0.80],[8893,0.89],[8897,1.32],[8901,0.80],[8905,0.84],[8909,1.28],[8913,4.0],[8915,4.0],[8918,0.66],[8921,0.55],[8925,0.62],[8928,0.75],[8932,0.80],[8936,0.62],[8940,0.47],[8944,0.38],[8948,0.55],[8952,4.0],[8955,1.10],[8957,0.58],[8961,0.47],[8965,0.40],[8969,0.47],[8973,0.46],[8977,0.51],[8981,0.80],[8983,1.13],[8986,0.84],[8990,0.55],[8994,1.02],[8996,4.0],[8999,0.62],[9003,0.42],[9007,0.40],[9011,0.36],[9015,0.40],[9019,0.44],[9022,0.47],[9026,0.55],[9030,0.44],[9034,0.55],[9038,0.73],[9042,0.95],[9046,0.69],[9050,0.47],[9054,0.44],[9058,0.40],[9062,0.40],[9066,0.47],[9069,0.42],[9073,0.38],[9077,0.40],[9081,0.36],[9085,0.40],[9089,0.60],[9093,0.47],[9097,0.69],[9101,0.55],[9105,0.38],[9110,0.38],[9115,0.36],[9120,0.39],[9126,0.38],[9131,0.39],[9136,0.38],[9141,0.40],[9145,0.55],[9148,0.62],[9152,0.47],[9156,0.40],[9161,0.40],[9166,0.40],[9171,0.40],[9176,0.40],[9182,0.39],[9188,0.40],[9195,0.40],[9201,0.42],[9205,0.47],[9209,0.55],[9213,0.44],[9217,0.47],[9220,0.58],[9222,0.44],[9227,0.40],[9234,0.40],[9240,0.44],[9244,0.49],[9248,0.44],[9252,0.47],[9256,0.57],[9260,0.47],[9264,0.42],[9268,0.47],[9272,0.44],[9276,0.51],[9280,0.58],[9284,0.51],[9288,0.62],[9291,0.58],[9295,0.51],[9298,0.55]
];

// ---------- build table ----------
const fluxRows = fluxPairs.map(([w, v]) => ({ w, v }));
const noiseRows = noisePairs.map(([w, v]) => ({ w, v }));

const FONT = "DejaVu Sans";
const W = 3000, H = 900;
const mL = 375, mR = 300, mT = 108, mB = 99;

const chart = Plot.plot({
  width: W,
  height: H,
  marginLeft: mL,
  marginRight: mR,
  marginTop: mT,
  marginBottom: mB,
  style: { fontFamily: FONT, color: "black", background: "white", overflow: "visible" },
  x: { domain: xDomain },
  y: { domain: yDomain },
  marks: [
    Plot.lineY(noiseRows, { x: "w", y: "v", stroke: "#008000", strokeWidth: 1.4, clip: true }),
    Plot.lineY(fluxRows, { x: "w", y: "v", stroke: "#000000", strokeWidth: 4.2, clip: true }),
    Plot.ruleY(zeroLevel, { stroke: "#0000ff", strokeWidth: 6.2 }),
    Plot.axisX({ ticks: xTicks, tickFormat: d3.format("d"), tickSize: 14.6, tickPadding: 16, fontSize: 29, label: null, strokeWidth: 3.3 }),
    Plot.axisY({ ticks: yTicks, tickFormat: d3.format(".1f"), tickSize: 14.6, tickPadding: 14.6, fontSize: 37.5, label: null, strokeWidth: 3.3 }),
    Plot.frame({ stroke: "black", strokeWidth: 3.3 })
  ]
});

document.getElementById("chart").append(chart);

const svg = d3.select(chart);
const cx = mL + (W - mL - mR) / 2;

// title
svg.append("text")
  .attr("x", cx).attr("y", 83)
  .attr("text-anchor", "middle")
  .attr("font-family", FONT).attr("font-size", 50).attr("fill", "black")
  .text(titleText);

// x label
svg.append("text")
  .attr("x", cx).attr("y", 889)
  .attr("text-anchor", "middle")
  .attr("font-family", FONT).attr("font-size", 32).attr("fill", "black")
  .text(xLabelText);

// y label with superscripts
const yl = svg.append("text")
  .attr("transform", `translate(227,${mT + (H - mT - mB) / 2}) rotate(-90)`)
  .attr("text-anchor", "middle")
  .attr("font-family", FONT).attr("font-size", 48).attr("fill", "black");
let prevSup = false;
for (const p of yLabelParts) {
  const ts = yl.append("tspan").text(p.t);
  if (p.sup) {
    ts.attr("font-size", 33.6).attr("dy", -19.5).attr("dx", 1);
  } else if (prevSup) {
    ts.attr("dy", 19.5).attr("dx", 5);
  }
  prevSup = !!p.sup;
}
</script>
</body>
</html>
